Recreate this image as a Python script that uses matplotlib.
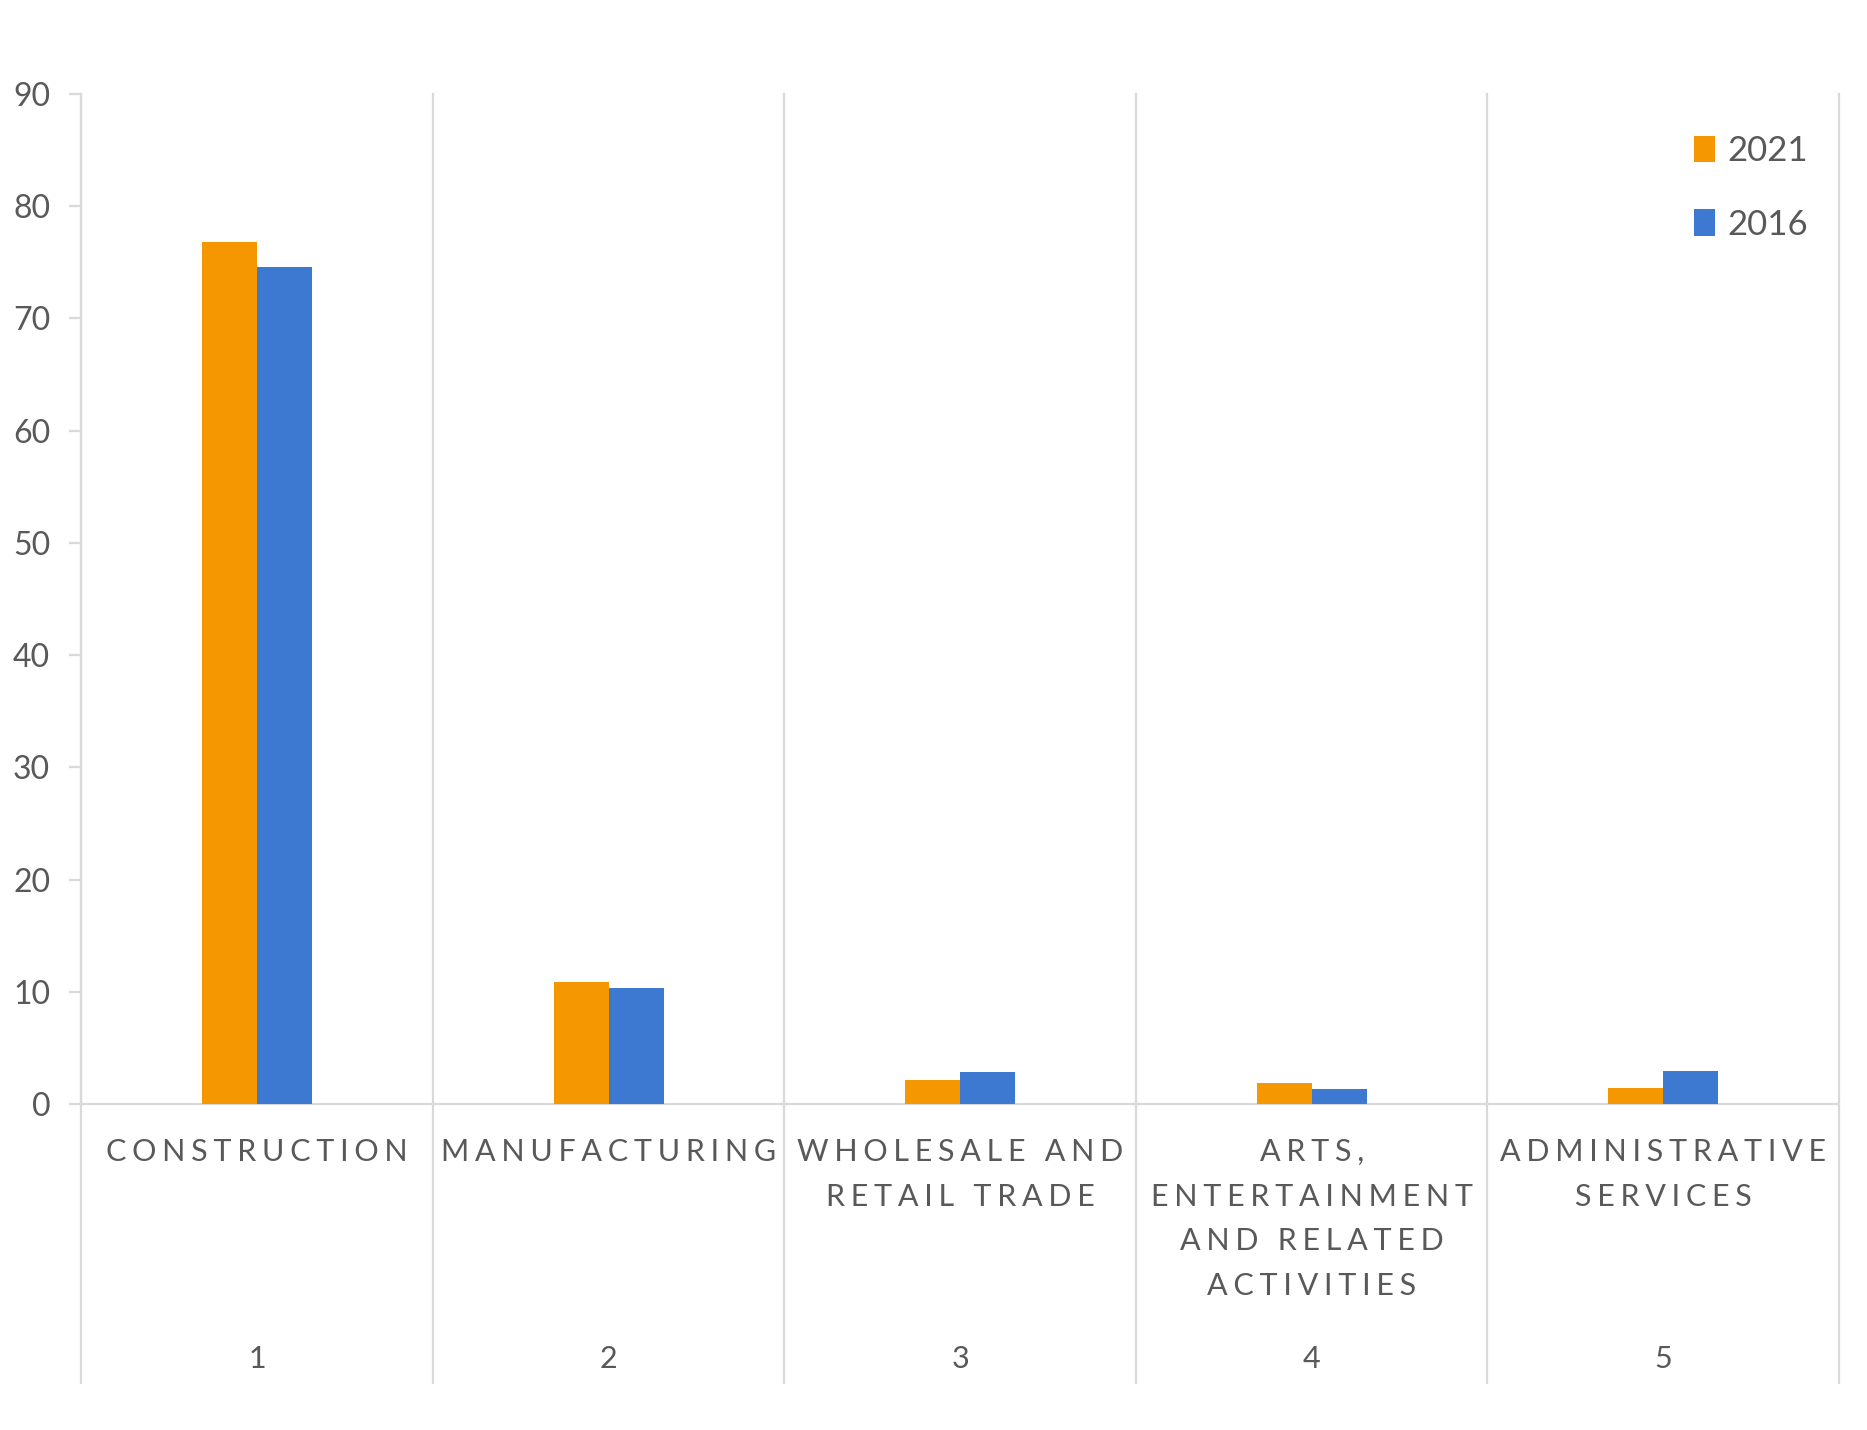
import matplotlib
matplotlib.use("Agg")
from matplotlib import pyplot as plt
import numpy as np

# data
categories = ["CONSTRUCTION", "MANUFACTURING", "WHOLESALE AND\nRETAIL TRADE",
              "ARTS,\nENTERTAINMENT\nAND RELATED\nACTIVITIES", "ADMINISTRATIVE\nSERVICES"]
group_labels = ["1", "2", "3", "4", "5"]
values_2021 = [76.8, 10.9, 2.2, 1.9, 1.5]
values_2016 = [74.6, 10.4, 2.9, 1.4, 3.0]
series_names = ["2021", "2016"]
y_ticks = [0, 10, 20, 30, 40, 50, 60, 70, 80, 90]

orange = "#F59700"
blue = "#3D79D0"
grid_c = "#D9D9D9"
text_c = "#595959"
fam = ["Lato", "DejaVu Sans"]


def spaced(s):
    # excel-style character spacing
    return "\n".join("\u2009\u200a".join(line) for line in s.split("\n"))


fig = plt.figure(figsize=(18.67, 14.30), dpi=100)
ax = fig.add_axes([0.0436, 0.2277, 0.9414, 0.7068])

x = np.arange(len(categories)) + 0.5
w = 0.156
ax.bar(x - w / 2, values_2021, w, color=orange, label=series_names[0], zorder=3)
ax.bar(x + w / 2, values_2016, w, color=blue, label=series_names[1], zorder=3)

ax.set_xlim(0, 5)
ax.set_ylim(0, 90)
ax.set_yticks(y_ticks)
ax.set_xticks([])
for s in ["top", "right"]:
    ax.spines[s].set_visible(False)
ax.spines["left"].set_color(grid_c)
ax.spines["left"].set_linewidth(1.6)
ax.spines["bottom"].set_color(grid_c)
ax.spines["bottom"].set_linewidth(1.6)
ax.tick_params(axis="y", length=8.5, width=1.6, color=grid_c, pad=14,
               labelsize=23, labelcolor=text_c)
for lab in ax.get_yticklabels():
    lab.set_family(fam)

# vertical separators between categories, running down through the label area
trans = ax.get_xaxis_transform()
for i in range(len(categories) + 1):
    ax.plot([i, i], [1, -0.276], transform=trans, color=grid_c, lw=1.6,
            clip_on=False, zorder=1)

for xi, cat, g in zip(x, categories, group_labels):
    ax.text(xi, -0.033, spaced(cat), transform=trans, ha="center", va="top",
            fontsize=22, color=text_c, family=fam, linespacing=1.73)
    ax.text(xi, -0.252, g, transform=trans, ha="center", va="center",
            fontsize=22, color=text_c, family=fam)

leg = ax.legend(loc="upper right", bbox_to_anchor=(1.0, 0.99), frameon=False,
                handlelength=0.6, handleheight=0.8, handletextpad=0.35,
                labelspacing=1.2, prop={"family": fam, "size": 25})
for t in leg.get_texts():
    t.set_color(text_c)

plt.savefig("out.png", dpi=100)
